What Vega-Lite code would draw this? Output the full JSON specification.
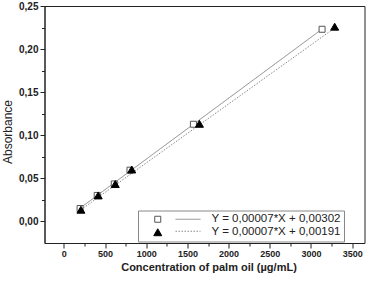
{
  "$schema": "https://vega.github.io/schema/vega-lite/v6.json",
  "width": 320,
  "height": 237,
  "autosize": "none",
  "padding": {"left": 44.5, "top": 6, "right": 3.5, "bottom": 38},
  "background": "white",
  "config": {
    "view": {"stroke": "#222", "strokeWidth": 1},
    "font": "Liberation Sans",
    "axis": {"grid": false, "domainColor": "#222", "tickColor": "#222", "labelColor": "#222", "titleColor": "#222"}
  },
  "datasets": {
    "points": [
      {"eq": "Y = 0,00007*X + 0,00302", "conc": 197, "abs": 0.0150},
      {"eq": "Y = 0,00007*X + 0,00302", "conc": 405, "abs": 0.0302},
      {"eq": "Y = 0,00007*X + 0,00302", "conc": 612, "abs": 0.0435},
      {"eq": "Y = 0,00007*X + 0,00302", "conc": 803, "abs": 0.0595},
      {"eq": "Y = 0,00007*X + 0,00302", "conc": 1573, "abs": 0.1128},
      {"eq": "Y = 0,00007*X + 0,00302", "conc": 3135, "abs": 0.2230},
      {"eq": "Y = 0,00007*X + 0,00191", "conc": 207, "abs": 0.0136},
      {"eq": "Y = 0,00007*X + 0,00191", "conc": 417, "abs": 0.0302},
      {"eq": "Y = 0,00007*X + 0,00191", "conc": 624, "abs": 0.0434},
      {"eq": "Y = 0,00007*X + 0,00191", "conc": 824, "abs": 0.0603},
      {"eq": "Y = 0,00007*X + 0,00191", "conc": 1646, "abs": 0.1133},
      {"eq": "Y = 0,00007*X + 0,00191", "conc": 3288, "abs": 0.2260}
    ],
    "fits": [
      {"eq": "Y = 0,00007*X + 0,00302", "conc": 197, "abs": 0.0155},
      {"eq": "Y = 0,00007*X + 0,00302", "conc": 3135, "abs": 0.2232},
      {"eq": "Y = 0,00007*X + 0,00191", "conc": 207, "abs": 0.0136},
      {"eq": "Y = 0,00007*X + 0,00191", "conc": 3288, "abs": 0.2245}
    ]
  },
  "resolve": {"axis": {"x": "independent", "y": "independent"}},
  "layer": [
    {
      "data": {"name": "fits"},
      "mark": {"type": "line", "color": "#888", "strokeWidth": 1},
      "encoding": {
        "x": {"field": "conc", "type": "quantitative",
          "scale": {"domain": [-235, 3650], "nice": false, "zero": false},
          "axis": {"orient": "bottom", "values": [250, 750, 1250, 1750, 2250, 2750, 3250], "labels": false, "domain": false, "tickSize": 3, "title": null}},
        "y": {"field": "abs", "type": "quantitative",
          "scale": {"domain": [-0.025, 0.25], "nice": false, "zero": false},
          "axis": {"orient": "left", "values": [0.025, 0.075, 0.125, 0.175, 0.225], "labels": false, "domain": false, "tickSize": 3, "title": null}},
        "strokeDash": {"field": "eq", "type": "nominal", "sort": "descending",
          "scale": {"range": [[1, 0], [1.5, 1.5]]},
          "legend": {"orient": "none", "legendX": 130.5, "legendY": 207.5, "title": null, "padding": 0,
            "symbolType": "stroke", "symbolSize": 625, "symbolStrokeWidth": 1, "clipHeight": 11.5,
            "rowPadding": 0, "labelExpr": "''", "labelOffset": 0, "labelFontSize": 1}}
      }
    },
    {
      "data": {"name": "points"},
      "mark": {"type": "point", "filled": true, "strokeWidth": 1, "opacity": 1, "size": 64},
      "encoding": {
        "x": {"field": "conc", "type": "quantitative",
          "axis": {"orient": "bottom", "values": [0, 500, 1000, 1500, 2000, 2500, 3000, 3500], "format": "d", "tickSize": 5, "labelPadding": 1.5, "labelFontSize": 9, "labelFontWeight": "bold",
            "title": "Concentration of palm oil (µg/mL)", "titleFontSize": 11, "titleFontWeight": "bold", "titleX": 164, "titleY": 24, "titleBaseline": "middle"}},
        "y": {"field": "abs", "type": "quantitative",
          "axis": {"orient": "left", "values": [0, 0.05, 0.1, 0.15, 0.2, 0.25], "tickSize": 4.5, "labelPadding": 2, "labelFontSize": 10, "labelFontWeight": "bold",
            "labelExpr": "replace(format(datum.value, '.2f'), '.', ',')",
            "title": "Absorbance", "titleFontSize": 12, "titleFontWeight": "normal", "titleX": -37.5, "titleY": 125.5, "titleBaseline": "middle"}},
        "shape": {"field": "eq", "type": "nominal",
          "scale": {"domain": ["Y = 0,00007*X + 0,00302", "Y = 0,00007*X + 0,00191"], "range": ["M-0.75,-0.75H0.75V0.75H-0.75Z", "triangle-up"]},
          "legend": {"orient": "none", "legendX": 93.5, "legendY": 204.5, "title": null, "padding": 3,
            "strokeColor": "#888", "labelFontSize": 11.5, "labelOffset": 48, "symbolSize": 64, "symbolOffset": 11,
            "clipHeight": 11.5, "rowPadding": 0, "labelColor": "#222", "symbolStrokeWidth": 1}},
        "fill": {"field": "eq", "type": "nominal",
          "scale": {"domain": ["Y = 0,00007*X + 0,00302", "Y = 0,00007*X + 0,00191"], "range": ["white", "black"]}},
        "stroke": {"field": "eq", "type": "nominal",
          "scale": {"domain": ["Y = 0,00007*X + 0,00302", "Y = 0,00007*X + 0,00191"], "range": ["#555", "black"]}}
      }
    }
  ]
}
